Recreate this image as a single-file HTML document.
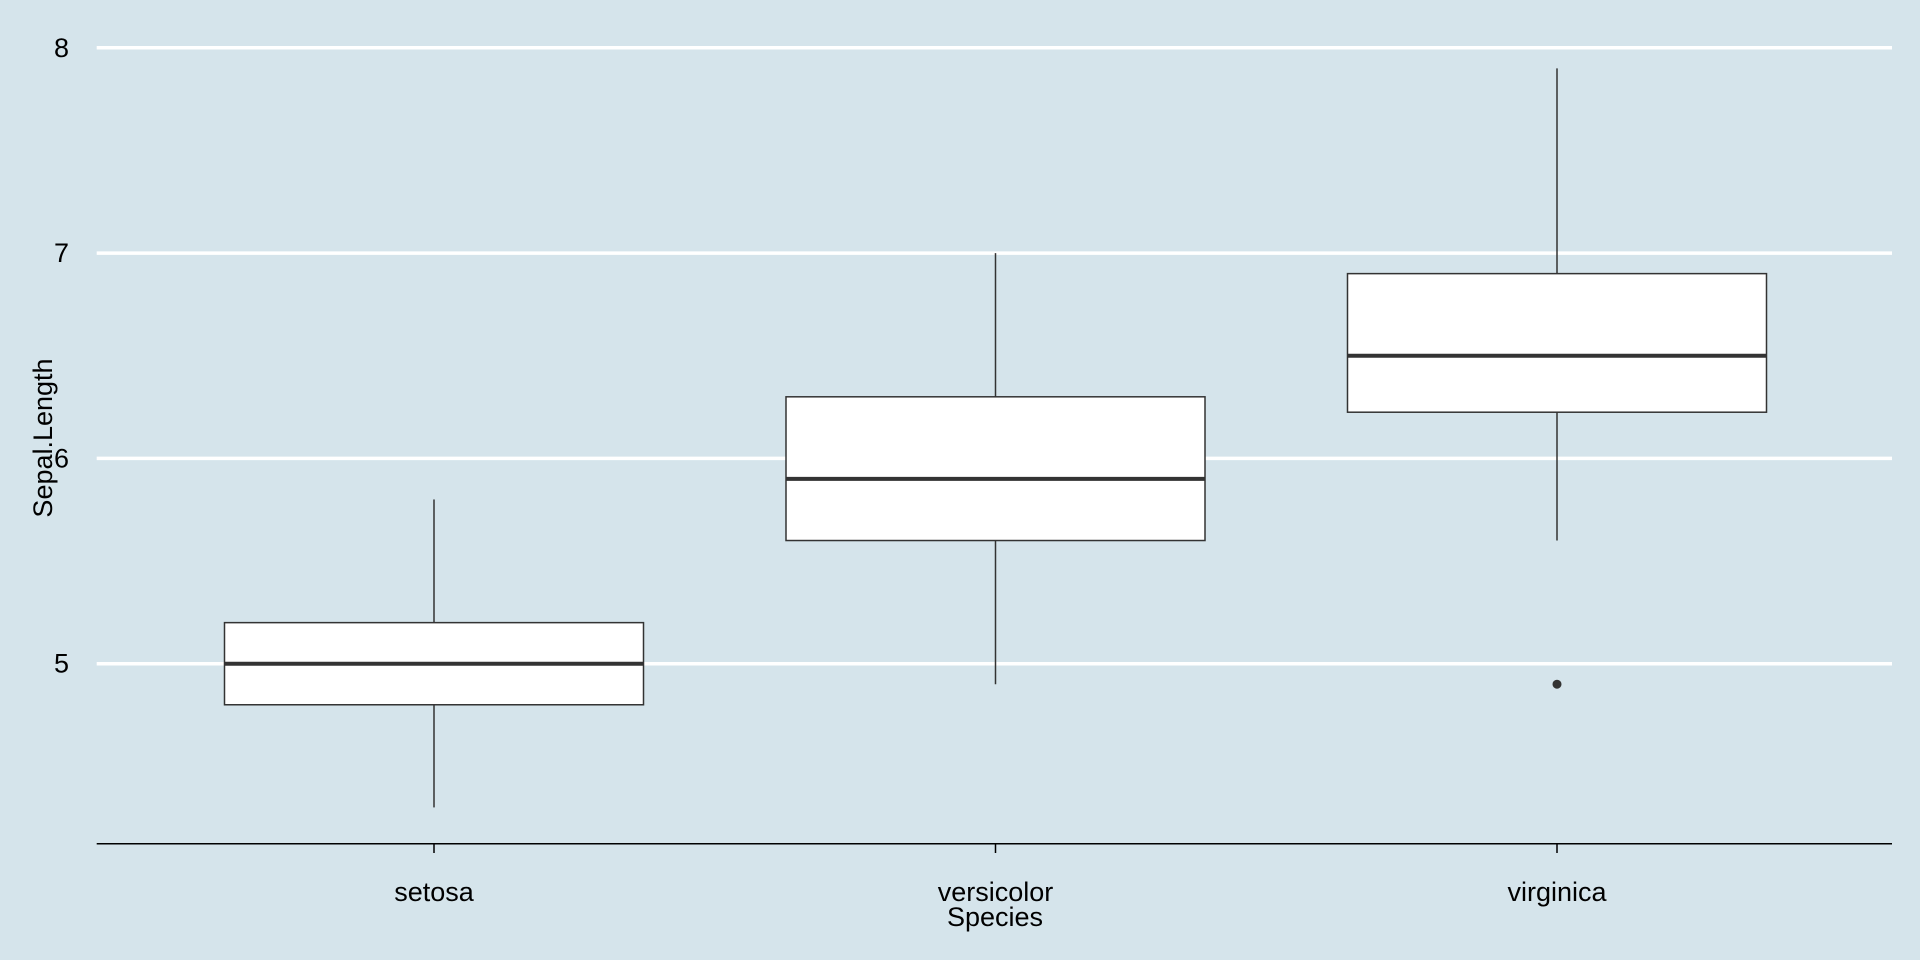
<!DOCTYPE html>
<html><head><meta charset="utf-8"><style>
html,body{margin:0;padding:0;background:#d5e4eb;}
svg{display:block;font-family:"Liberation Sans",Arial,sans-serif;}
</style></head><body>
<svg id="chart" width="1920" height="960" viewBox="0 0 1920 960" xmlns="http://www.w3.org/2000/svg">
<rect x="0" y="0" width="1920" height="960" fill="#d5e4eb"/>
<g id="grid"></g>
<g id="yticks"></g>
<g id="boxes"></g>
<g id="xaxis"></g>
<text x="995" y="926" font-size="27" text-anchor="middle" fill="#000">Species</text>
<text transform="translate(52,438) rotate(-90)" font-size="27" text-anchor="middle" fill="#000">Sepal.Length</text>
</svg>
<script>
const categories = ["setosa","versicolor","virginica"];
const mins = [4.3,4.9,5.6];
const q1s = [4.8,5.6,6.225];
const medians = [5.0,5.9,6.5];
const q3s = [5.2,6.3,6.9];
const maxs = [5.8,7.0,7.9];
const outliers = [[],[],[4.9]];
const yTicks = [5,6,7,8];

const NS="http://www.w3.org/2000/svg";
const plotL=96.7, plotR=1892, axisY=843.7;
function y(v){return 47.8+(8-v)*205.3;}
function x(i){return 434+i*561.5;}
const halfW=209.5;
function mk(tag,attrs,parent){const e=document.createElementNS(NS,tag);for(const k in attrs)e.setAttribute(k,attrs[k]);parent.appendChild(e);return e;}
const grid=document.getElementById('grid'),yt=document.getElementById('yticks'),bx=document.getElementById('boxes'),xa=document.getElementById('xaxis');
yTicks.forEach(t=>{
  const l=mk('line',{x1:plotL,x2:plotR,y1:y(t),y2:y(t),stroke:'#fff','stroke-width':3.5},grid);
  
  
  const tx=mk('text',{x:69,y:y(t)+9,'font-size':27,'text-anchor':'end',fill:'#000'},yt);
  tx.textContent=t;
  
  
});
categories.forEach((c,i)=>{
  const g=mk('g',{},bx);
  
  
  const cx=x(i);
  mk('line',{x1:cx,x2:cx,y1:y(maxs[i]),y2:y(q3s[i]),stroke:'#333','stroke-width':1.5},g);
  mk('line',{x1:cx,x2:cx,y1:y(q1s[i]),y2:y(mins[i]),stroke:'#333','stroke-width':1.5},g);
  mk('rect',{x:cx-halfW,y:y(q3s[i]),width:2*halfW,height:y(q1s[i])-y(q3s[i]),fill:'#fff',stroke:'#333','stroke-width':1.5},g);
  mk('line',{x1:cx-halfW,x2:cx+halfW,y1:y(medians[i]),y2:y(medians[i]),stroke:'#333','stroke-width':4},g);
  outliers[i].forEach(o=>{
    const p=mk('circle',{cx:cx,cy:y(o),r:4.5,fill:'#333'},g);
    
    
  });
  mk('line',{x1:cx,x2:cx,y1:axisY,y2:853,stroke:'#000','stroke-width':1.5},xa);
  const tx=mk('text',{x:cx,y:901,'font-size':27,'text-anchor':'middle',fill:'#000'},xa);
  tx.textContent=c;
  
  
});
const ax=mk('line',{x1:plotL,x2:plotR,y1:axisY,y2:axisY,stroke:'#000','stroke-width':1.5},xa);


</script>
</body></html>
